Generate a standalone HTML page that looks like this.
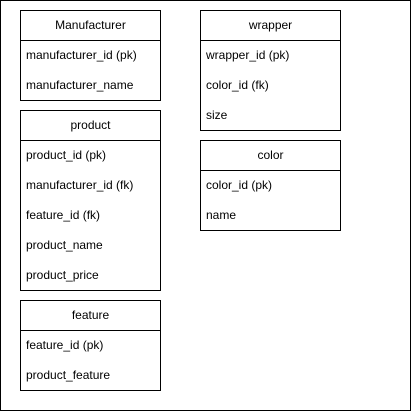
<!DOCTYPE html>
<html><head><style>
body{margin:0;width:411px;height:411px;background:#fff;position:relative;font-family:"Liberation Sans",Arial,sans-serif;font-size:12px;color:#000}
.frame{position:absolute;left:0;top:0;width:409px;height:409px;border:1px solid #000}
.t{position:absolute;border:1px solid #000;background:#fff;box-sizing:border-box;width:141px}
.h{height:30px;line-height:28px;text-align:center;border-bottom:1px solid #000;box-sizing:border-box}
.r{height:30px;line-height:28px;padding-left:5px}
</style></head><body>
<div class="frame"></div>
<div class="t" style="left:20px;top:10px;height:91px"><div class="h">Manufacturer</div><div class="r">manufacturer_id (pk)</div><div class="r">manufacturer_name</div></div>
<div class="t" style="left:20px;top:110px;height:181px"><div class="h">product</div><div class="r">product_id (pk)</div><div class="r">manufacturer_id (fk)</div><div class="r">feature_id (fk)</div><div class="r">product_name</div><div class="r">product_price</div></div>
<div class="t" style="left:20px;top:300px;height:91px"><div class="h">feature</div><div class="r">feature_id (pk)</div><div class="r">product_feature</div></div>
<div class="t" style="left:200px;top:10px;height:121px"><div class="h">wrapper</div><div class="r">wrapper_id (pk)</div><div class="r">color_id (fk)</div><div class="r">size</div></div>
<div class="t" style="left:200px;top:140px;height:91px"><div class="h">color</div><div class="r">color_id (pk)</div><div class="r">name</div></div>
</body></html>
